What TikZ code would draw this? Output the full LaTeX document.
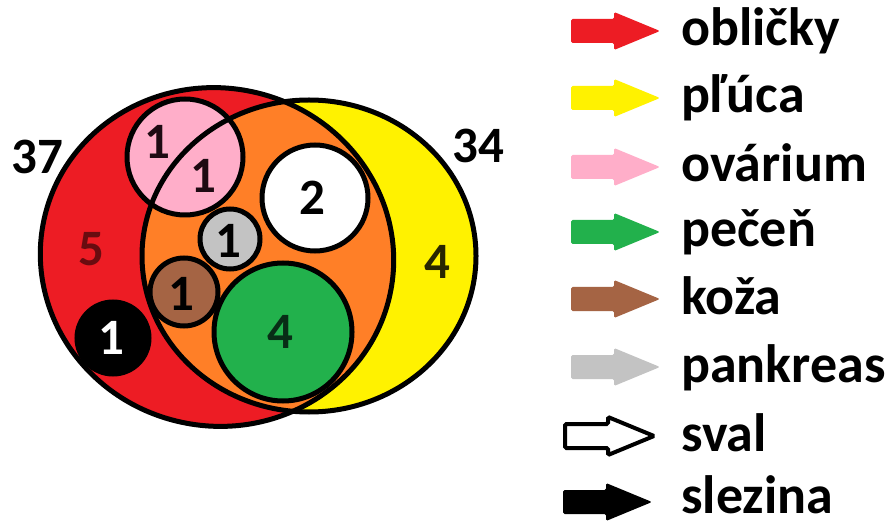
\documentclass[tikz,border=0pt]{standalone}
\usepackage{fontspec}
\setmainfont{Carlito}
\definecolor{cRed}{RGB}{237,28,36}
\definecolor{cYellow}{RGB}{255,242,0}
\definecolor{cOrange}{RGB}{255,127,39}
\definecolor{cPink}{RGB}{255,174,201}
\definecolor{cGreen}{RGB}{34,177,76}
\definecolor{cBrown}{RGB}{165,100,68}
\definecolor{cGray}{RGB}{195,195,195}
\definecolor{tRed}{RGB}{105,12,16}
\definecolor{tOlive}{RGB}{40,38,0}
\definecolor{tGreen}{RGB}{8,45,22}
\definecolor{tPink}{RGB}{30,10,18}
\def\redshape{[rotate around={-12:(217,257)}] (217,257) ellipse [x radius=177, y radius=169]}
\def\yellowshape{(309,256) ellipse [x radius=167, y radius=156]}
\begin{document}
\begin{tikzpicture}[x=1pt,y=-1pt,
  outl/.style={draw=black,line width=5pt},
  blob/.style={circle,draw=black,line width=5pt,inner sep=0pt},
  num/.style={font=\fontsize{51}{54}\selectfont\bfseries,inner sep=0pt},
  legtext/.style={font=\fontsize{54}{58}\selectfont\bfseries,inner sep=0pt,anchor=base west},
  legarr/.pic={\path[pic actions,rounded corners=1.5pt] (0,-12) -- (43,-12) -- (43,-19) -- (89,0) -- (43,19) -- (43,12) -- (0,12) -- cycle;}]
\useasboundingbox[fill=white] (0,0) rectangle (893,526);
% region fills
\fill[cRed] \redshape;
\fill[cYellow] \yellowshape;
\begin{scope}
  \clip \redshape;
  \fill[cOrange] \yellowshape;
\end{scope}
% outlines
\draw[outl] \redshape;
\draw[outl] \yellowshape;
% ovarium circle with the lung boundary crossing it
\node[blob,fill=cPink,minimum size=116pt] (ovarium) at (185,157) {};
\begin{scope}
  \clip (ovarium.center) circle (57);
  \draw[outl] \yellowshape;
\end{scope}
\node[blob,fill=white,minimum size=106pt] (sval) at (315,198) {};
\node[blob,fill=cGray,minimum size=60pt] (pankreas) at (230,239) {};
\node[blob,fill=cBrown,minimum size=68pt] (koza) at (184,292) {};
\node[blob,fill=cGreen,minimum size=138pt] (pecen) at (283,332) {};
\node[blob,fill=black,minimum size=72pt] (slezina) at (113,338) {};
% numbers
\node[num] (n37) at (37,157) {37};
\node[num] (n34) at (478,146) {34};
\node[num,text=tRed] (n5) at (91,249) {5};
\node[num,text=tOlive] (n4y) at (437,262) {4};
\node[num,text=tPink] (n1a) at (157,142) {1};
\node[num,text=tPink] (n1b) at (203,176) {1};
\node[num] (n2) at (312,198) {2};
\node[num] (n1g) at (228,241) {1};
\node[num] (n1k) at (181,294) {1};
\node[num,text=tGreen] (n4g) at (280,332) {4};
\node[num,text=white] (n1s) at (111,338) {1};
% legend
\pic[fill=cRed] (a1) at (571,31) {legarr};
\pic[fill=cYellow] (a2) at (571,98) {legarr};
\pic[fill=cPink] (a3) at (571,167) {legarr};
\pic[fill=cGreen] (a4) at (571,232) {legarr};
\pic[fill=cBrown] (a5) at (571,299) {legarr};
\pic[fill=cGray] (a6) at (571,367) {legarr};
\pic[fill=white,draw=black,line width=4pt] (a7) at (565,436) {legarr};
\pic[fill=black] (a8) at (563,502) {legarr};
\node[legtext] (t1) at (681,46) {obličky};
\node[legtext] (t2) at (681,113) {pľúca};
\node[legtext] (t3) at (681,182) {ovárium};
\node[legtext] (t4) at (681,247) {pečeň};
\node[legtext] (t5) at (681,314) {koža};
\node[legtext] (t6) at (681,382) {pankreas};
\node[legtext] (t7) at (681,451) {sval};
\node[legtext] (t8) at (681,513) {slezina};
\end{tikzpicture}
\end{document}
